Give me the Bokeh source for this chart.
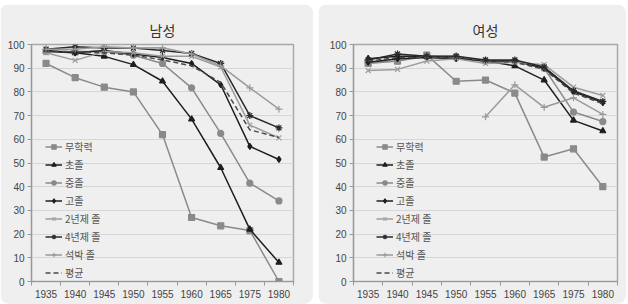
import math
from bokeh.plotting import figure
from bokeh.models import Legend, LegendItem, FixedTicker, Range1d
from bokeh.layouts import row
from bokeh.embed import file_html
from bokeh.resources import INLINE

nan = math.nan

years = ["1935", "1940", "1945", "1950", "1955", "1960", "1965", "1975", "1980"]
series_names = ["무학력", "초졸", "중졸", "고졸", "2년제 졸", "4년제 졸", "석박 졸", "평균"]
y_ticks = [0, 10, 20, 30, 40, 50, 60, 70, 80, 90, 100]

# 남성
male_none = [92, 86, 82, 80, 62, 27, 23.5, 21.5, 0]
male_elem = [97, 96.5, 95, 91.5, 84.5, 68.5, 48, 22, 8]
male_mid = [97, 97, 97, 95.5, 92, 81.7, 62.5, 41.5, 34]
male_high = [97.5, 96.5, 97.5, 96, 94.5, 92, 83, 57, 51.5]
male_2yr = [96.5, 93.3, 97, 96.5, 95, 95, 90.5, 66, 60.6]
male_4yr = [98, 99, 98.5, 98.5, 97.5, 96.2, 92, 70, 64.8]
male_phd = [98, 98, 99, 98.5, 98.6, 96, 91, 81.7, 72.7]
male_avg = [97, 97, 96.5, 95.5, 93.5, 91, 84, 64, 60.8]

# 여성
female_none = [92, 93, 95.5, 84.5, 85, 79.5, 52.5, 56, 40]
female_elem = [94, 95, 95, 94.5, 93, 91, 85, 68, 63.5]
female_mid = [92.5, 93, 95, 95, 93, 93, 90, 71.5, 67.5]
female_high = [92.5, 94, 94.5, 94, 93, 93, 90, 80, 75.5]
female_2yr = [89, 89.5, 93, 94, 92, 92.5, 91.5, 82, 78.5]
female_4yr = [93.5, 96, 95, 95, 93.5, 93.5, 90.5, 80.5, 76]
female_phd = [nan, nan, nan, nan, 69.5, 83, 73.5, 77.5, 70.5]
female_avg = [93, 94.5, 94.5, 94.5, 93, 92.5, 89.5, 79.5, 75]

male_series = [male_none, male_elem, male_mid, male_high, male_2yr, male_4yr, male_phd, male_avg]
female_series = [female_none, female_elem, female_mid, female_high, female_2yr, female_4yr, female_phd, female_avg]

# style per series: color, marker, dash
STYLES = [
    ("#8a8a8a", "square", "solid"),
    ("#1e1e1e", "triangle", "solid"),
    ("#8a8a8a", "circle", "solid"),
    ("#1e1e1e", "diamond", "solid"),
    ("#9c9c9c", "x", "solid"),
    ("#2a2a2a", "asterisk", "solid"),
    ("#9a9a9a", "cross", "solid"),
    ("#4a4a4a", None, "5 3"),
]

CARD = "#efefef"
KR = "Noto Sans CJK KR"
NUM = "Liberation Sans"


def make_panel(title, series, width, b_left, b_right, legend_x):
    xs = list(range(len(years)))
    p = figure(width=width, height=300, x_range=Range1d(-0.5, len(years) - 0.5),
               y_range=Range1d(0, 100), output_backend="svg", toolbar_location=None,
               min_border_left=b_left, min_border_right=b_right,
               min_border_top=40, min_border_bottom=23)
    p.margin = (4, 0, 0, 0)
    p.styles = {"border-radius": "9px", "overflow": "hidden"}
    p.background_fill_color = CARD
    p.border_fill_color = CARD
    p.outline_line_color = "#a8a8a8"
    p.outline_line_width = 1.5

    p.title.text = title
    p.title.align = "center"
    p.title.text_font = KR
    p.title.text_font_size = "14px"
    p.title.text_font_style = "normal"
    p.title.text_color = "#333333"

    xa = p.xaxis[0]
    xa.ticker = FixedTicker(ticks=xs, minor_ticks=[i - 0.5 for i in range(len(years) + 1)])
    xa.major_label_overrides = {i: y for i, y in enumerate(years)}
    xa.major_tick_out = 0
    xa.major_tick_in = 0
    xa.minor_tick_out = 4
    xa.minor_tick_in = 0
    xa.minor_tick_line_color = "#999999"
    xa.axis_line_color = "#999999"
    xa.axis_line_width = 1.2
    xa.major_label_text_font = NUM
    xa.major_label_text_font_size = "10px"
    xa.major_label_text_color = "#444444"
    xa.major_label_standoff = 4

    ya = p.yaxis[0]
    ya.ticker = FixedTicker(ticks=y_ticks)
    ya.major_tick_out = 4
    ya.major_tick_in = 0
    ya.minor_tick_line_color = None
    ya.major_tick_line_color = "#999999"
    ya.axis_line_color = "#999999"
    ya.axis_line_width = 1.2
    ya.major_label_text_font = NUM
    ya.major_label_text_font_size = "10px"
    ya.major_label_text_color = "#444444"
    ya.major_label_standoff = 3

    p.xgrid.visible = False
    p.ygrid.ticker = FixedTicker(ticks=y_ticks)
    p.ygrid.grid_line_color = "#d6d6d6"
    p.ygrid.grid_line_width = 1

    items = []
    for name, vals, (color, marker, dash) in zip(series_names, series, STYLES):
        rs = []
        lr = p.line(xs, vals, line_color=color, line_width=1.5, line_dash=dash)
        rs.append(lr)
        if marker is not None:
            big = marker in ("x", "asterisk", "cross")
            sr = p.scatter(xs, vals, marker=marker, size=7 if big else 6,
                           fill_color=color, line_color=color, line_width=1.2)
            rs.append(sr)
        items.append(LegendItem(label=name, renderers=rs))

    legend = Legend(items=items, location=(legend_x, 0), glyph_width=17, glyph_height=11,
                    label_height=18, spacing=0, padding=0, margin=0, label_standoff=3,
                    background_fill_alpha=0, border_line_alpha=0,
                    label_text_font=KR, label_text_font_size="10px", label_text_color="#555555")
    p.add_layout(legend)
    return p


p1 = make_panel("남성", male_series, 313, 31, 20, 14)
p2 = make_panel("여성", female_series, 308, 35, 9, 23)
layout = row(p1, p2, spacing=5)

open("out.html", "w").write(file_html(layout, INLINE))
